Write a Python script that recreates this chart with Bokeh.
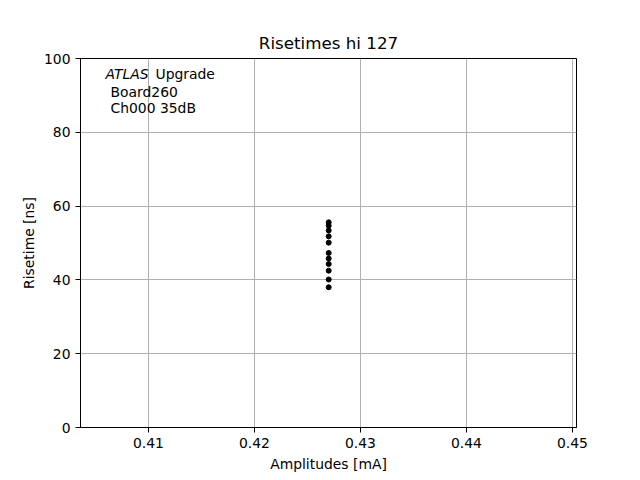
from bokeh.plotting import figure
from bokeh.models import Range1d, FixedTicker, Label
from bokeh.embed import file_html
from bokeh.resources import INLINE

# Data
amplitudes = [0.427] * 11
risetimes = [55.6, 54.7, 53.4, 51.8, 50.1, 47.3, 45.8, 44.3, 42.5, 40.1, 38.0]
x_ticks = [0.41, 0.42, 0.43, 0.44, 0.45]
y_ticks = [0, 20, 40, 60, 80, 100]
title_text = "Risetimes hi 127"
x_label = "Amplitudes [mA]"
y_label = "Risetime [ns]"

FONT = "DejaVu Sans"
FS = "13.9px"

p = figure(width=640, height=480, output_backend="svg", toolbar_location=None,
           x_range=Range1d(0.403585, 0.450377), y_range=Range1d(0, 100),
           min_border_left=80, min_border_right=64, min_border_top=58, min_border_bottom=53)

p.title.text = title_text
p.title.align = "center"
p.title.text_font = FONT
p.title.text_font_size = "16.7px"
p.title.text_font_style = "normal"
p.title.text_color = "black"
p.title.offset = 0
p.title.standoff = 11

p.outline_line_color = "black"
p.outline_line_width = 1
p.outline_line_alpha = 1

for ax, ticks, lab in ((p.xaxis[0], x_ticks, x_label), (p.yaxis[0], y_ticks, y_label)):
    ax.ticker = FixedTicker(ticks=ticks)
    ax.axis_label = lab
    ax.axis_label_text_font = FONT
    ax.axis_label_text_font_size = FS
    ax.axis_label_text_font_style = "normal"
    ax.axis_label_text_color = "black"
    ax.major_label_text_font = FONT
    ax.major_label_text_font_size = FS
    ax.major_label_text_color = "black"
    ax.major_tick_out = 5
    ax.major_tick_in = 0
    ax.minor_tick_line_color = None
    ax.axis_line_color = "black"
    ax.major_tick_line_color = "black"

p.xaxis[0].major_label_standoff = 5
p.yaxis[0].major_label_standoff = 5
p.xaxis[0].axis_label_standoff = 5
p.yaxis[0].axis_label_standoff = 4

for g in (p.xgrid[0], p.ygrid[0]):
    g.grid_line_color = "#b0b0b0"
    g.grid_line_width = 1

p.scatter(amplitudes, risetimes, size=5, color="black", line_color="black")

p.add_layout(Label(x=0.405943, y=95.7, text="ATLAS", text_font=FONT, text_font_size=FS,
                   text_font_style="italic", text_color="black", text_baseline="alphabetic"))
p.add_layout(Label(x=0.410660, y=95.7, text="Upgrade", text_font=FONT, text_font_size=FS,
                   text_color="black", text_baseline="alphabetic"))
p.add_layout(Label(x=0.406415, y=90.8, text="Board260", text_font=FONT, text_font_size=FS,
                   text_color="black", text_baseline="alphabetic"))
p.add_layout(Label(x=0.406415, y=86.5, text="Ch000 35dB", text_font=FONT, text_font_size=FS,
                   text_color="black", text_baseline="alphabetic"))

open("out.html", "w").write(file_html(p, INLINE))
